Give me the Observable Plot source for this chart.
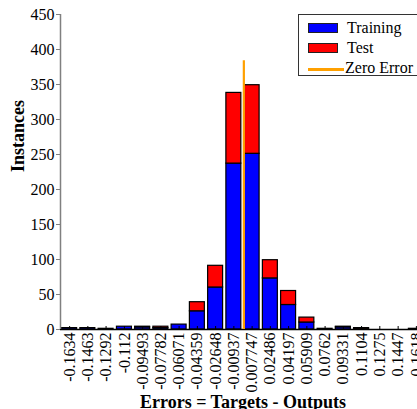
<!DOCTYPE html>
<html>
<head>
<meta charset="utf-8">
<script src="https://cdn.jsdelivr.net/npm/d3@7"></script>
<script src="https://cdn.jsdelivr.net/npm/@observablehq/plot@0.6"></script>
<style>
  html, body { margin: 0; padding: 0; background: #fff; overflow: hidden; width: 417px; height: 409px; }
  #wrap { position: relative; width: 417px; height: 409px; overflow: hidden; font-family: "Liberation Serif", "Times New Roman", serif; }
  #chart svg { max-width: none !important; }
  #legend { position: absolute; left: 298px; top: 14px; width: 130px; height: 62px; border: 1px solid #333; background: #fff; box-sizing: border-box; }
  .item { position: absolute; left: 0; font-size: 16px; line-height: 16px; color: #000; white-space: nowrap; }
  .sw { position: absolute; left: 9px; width: 28px; height: 8px; border: 1px solid #222; }
  .ln { position: absolute; left: 9px; width: 36px; height: 3px; }
  .lbl { position: absolute; }
</style>
</head>
<body>
<div id="wrap">
  <div id="chart"></div>
  <div id="legend"></div>
</div>
<script>
// Error histogram: 20 bins, bin centre labels
const binLabels = ["-0.1634", "-0.1463", "-0.1292", "-0.112", "-0.09493", "-0.07782", "-0.06071",
  "-0.04359", "-0.02648", "-0.00937", "0.007747", "0.02486", "0.04197", "0.05909", "0.0762",
  "0.09331", "0.1104", "0.1275", "0.1447", "0.1618"];
const training = [2, 2, 1, 4, 3, 2, 7, 26, 60, 237, 251, 73, 35, 10, 1, 3, 1, 0, 0, 1];
const test     = [0, 0, 0, 0, 1, 2, 0, 13, 31, 101, 98, 26, 20, 7, 0, 1, 1, 0, 0, 0];
const seriesNames = ["Training", "Test"];
const seriesColors = ["#0000ff", "#ff0000"];
const zeroErrorName = "Zero Error";
const zeroErrorColor = "#ffa000";
const yTicks = [0, 50, 100, 150, 200, 250, 300, 350, 400, 450];
const xTitle = "Errors = Targets - Outputs";
const yTitle = "Instances";

const centers = binLabels.map(Number);
const step = (centers[centers.length - 1] - centers[0]) / (centers.length - 1);
const half = step * 0.41;

// Stacked rows: training at the bottom, test on top
const rows = [];
centers.forEach((c, i) => {
  rows.push({center: c, series: seriesNames[0], y1: 0, y2: training[i]});
  rows.push({center: c, series: seriesNames[1], y1: training[i], y2: training[i] + test[i]});
});
const maxTotal = d3.max(centers, (c, i) => training[i] + test[i]);
const xDomain = [centers[0] - step / 2, centers[centers.length - 1] + step / 2];

const chart = Plot.plot({
  width: 440,
  height: 420,
  marginLeft: 60,
  marginRight: 15,
  marginTop: 14,
  marginBottom: 91,
  style: {fontFamily: "'Liberation Serif', 'Times New Roman', serif", fontSize: "16px", color: "#000", background: "#fff", maxWidth: "none"},
  x: {domain: xDomain},
  y: {domain: [yTicks[0], yTicks[yTicks.length - 1]]},
  color: {domain: seriesNames, range: seriesColors},
  marks: [
    Plot.rect(rows.filter(d => d.y2 > d.y1), {
      x1: d => d.center - half, x2: d => d.center + half,
      y1: "y1", y2: "y2", fill: "series", stroke: "#000", strokeWidth: 1.2
    }),
    Plot.ruleY([0], {stroke: "#000", strokeWidth: 1.5}),
    Plot.ruleX([xDomain[0]], {y1: yTicks[0], y2: yTicks[yTicks.length - 1], stroke: "#808080", strokeWidth: 1.5}),
    Plot.ruleX([0], {y1: 0, y2: maxTotal * 1.1, stroke: zeroErrorColor, strokeWidth: 2.2}),
    Plot.axisY({ticks: yTicks, tickSize: 4, tickPadding: 2, stroke: "#808080", label: null, fontSize: 16}),
    Plot.axisX({ticks: centers, tickFormat: (d, i) => binLabels[i], tickRotate: -90, tickSize: -3, tickPadding: 6, label: null, fontSize: 16}),
    Plot.text([xTitle], {frameAnchor: "bottom", dy: 78, fontWeight: "bold", fontSize: 18}),
    Plot.text([yTitle], {frameAnchor: "left", dx: -42, rotate: -90, fontWeight: "bold", fontSize: 18})
  ]
});
document.getElementById("chart").appendChild(chart);

// Legend box
const legend = document.getElementById("legend");
const entries = [
  {name: seriesNames[0], color: seriesColors[0], kind: "swatch"},
  {name: seriesNames[1], color: seriesColors[1], kind: "swatch"},
  {name: zeroErrorName, color: zeroErrorColor, kind: "line"}
];
entries.forEach((e, i) => {
  const item = document.createElement("div");
  item.className = "item";
  item.style.top = (7 + i * 20) + "px";
  item.style.width = "130px";
  item.style.height = "18px";
  const mark = document.createElement("div");
  if (e.kind === "swatch") {
    mark.className = "sw";
    mark.style.top = "1px";
    mark.style.background = e.color;
  } else {
    mark.className = "ln";
    mark.style.top = "6px";
    mark.style.background = e.color;
  }
  const lbl = document.createElement("span");
  lbl.className = "lbl";
  lbl.style.left = (e.kind === "swatch" ? 48 : 46) + "px";
  lbl.style.top = "-2px";
  lbl.textContent = e.name;
  item.appendChild(mark);
  item.appendChild(lbl);
  legend.appendChild(item);
});
</script>
</body>
</html>
